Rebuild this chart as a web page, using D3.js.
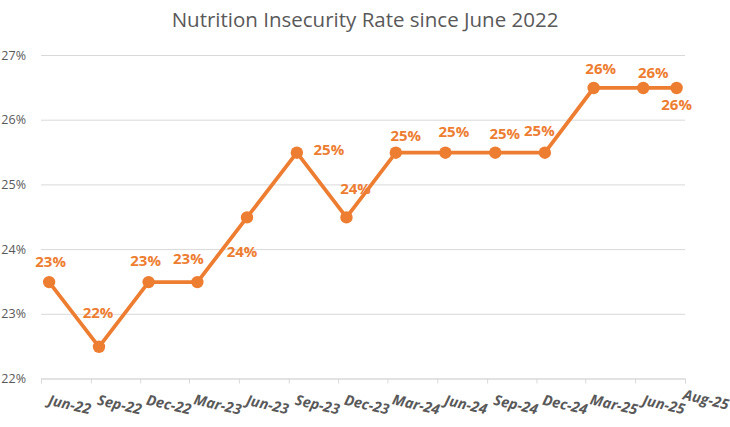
<!DOCTYPE html>
<html>
<head>
<meta charset="utf-8">
<script src="https://cdn.jsdelivr.net/npm/d3@7"></script>
<style>
  body { margin: 0; background: #fff; }
  text { font-family: "Open Sans", "Noto Sans", sans-serif; }
</style>
</head>
<body>
<div id="chart"></div>
<script>
// data (percent)
const months = ["2022-06", "2022-09", "2022-12", "2023-03", "2023-06", "2023-09", "2023-12",
                "2024-03", "2024-06", "2024-09", "2024-12", "2025-03", "2025-06", "2025-08"];
const rates = [23.49, 22.49, 23.49, 23.49, 24.49, 25.49, 24.49,
               25.49, 25.49, 25.49, 25.49, 26.49, 26.49, 26.49];
const xTickLabels = ["Jun-22", "Sep-22", "Dec-22", "Mar-23", "Jun-23", "Sep-23", "Dec-23",
                     "Mar-24", "Jun-24", "Sep-24", "Dec-24", "Mar-25", "Jun-25", "Aug-25"];
const yTicks = [22, 23, 24, 25, 26, 27];

// where each data label sits relative to its marker [dx, dy]
const labelOffsets = [[1.5, -15], [-1, -29], [-3, -16], [-9, -18], [-5, 40], [32, 2.5], [9, -23],
                      [10, -12], [8.5, -15.6], [9.5, -14], [-5.5, -16.6], [7, -14], [10, -10], [0, 22]];

let boxWidth = 730;
let boxHeight = 427;
let margin = {top: 55, right: 45, bottom: 48.5, left: 41};
let width = boxWidth - margin.left - margin.right;
let height = boxHeight - margin.top - margin.bottom;

const orange = "#ED7D31";
const grey = "#595959";
const gridColor = "#d9d9d9";

let parseMonth = d3.timeParse("%Y-%m");
let data = months.map((m, i) => {
  let start = parseMonth(m);
  let end = d3.timeMonth.offset(start, 1);
  return {date: new Date((+start + +end) / 2), value: rates[i], label: xTickLabels[i]};
});

let svg = d3.select("#chart")
  .append("svg")
  .attr("width", boxWidth)
  .attr("height", boxHeight);

// title
svg.append("text")
  .attr("x", boxWidth / 2)
  .attr("y", 27)
  .attr("text-anchor", "middle")
  .attr("font-size", "20.5px")
  .attr("fill", grey)
  .text("Nutrition Insecurity Rate since June 2022");

let plotGroup = svg.append("g")
  .attr("transform", `translate(${margin.left}, ${margin.top})`);

// scales
let axisStart = parseMonth(months[0]);
let axisEnd = d3.timeMonth.offset(parseMonth(months[months.length - 1]), 1);
let xScale = d3.scaleTime()
  .domain([axisStart, axisEnd])
  .range([0, width]);

let yScale = d3.scaleLinear()
  .domain([22, 27])
  .range([height, 0]);

// gridlines + y labels
let yAxis = d3.axisLeft(yScale)
  .tickValues(yTicks)
  .tickSize(-width)
  .tickPadding(15)
  .tickFormat(d => d + "%");

let yAxisG = plotGroup.append("g").call(yAxis);
yAxisG.select(".domain").remove();
yAxisG.selectAll(".tick line").attr("stroke", gridColor).attr("stroke-width", 1);
yAxisG.selectAll(".tick text")
  .attr("fill", grey)
  .attr("font-size", "12.5px")
  .attr("font-family", "Open Sans, sans-serif");

// x axis: tick every 3 months, last one closes the axis
let xTickDates = d3.timeMonth.range(axisStart, d3.timeMonth.offset(axisEnd, 1), 3);
let xAxis = d3.axisBottom(xScale)
  .tickValues(xTickDates)
  .tickSize(5)
  .tickFormat((d, i) => xTickLabels[i]);

let xAxisG = plotGroup.append("g")
  .attr("transform", `translate(0, ${height})`)
  .call(xAxis);
xAxisG.select(".domain").attr("stroke", gridColor);
xAxisG.selectAll(".tick line").attr("stroke", gridColor);
xAxisG.selectAll(".tick text")
  .attr("fill", grey)
  .attr("font-size", "14.5px")
  .attr("font-weight", "bold")
  .attr("font-style", "italic")
  .attr("font-family", "Open Sans, sans-serif")
  .attr("text-anchor", "middle")
  .attr("y", 0)
  .attr("dy", 0)
  .attr("transform", "translate(27, 31) rotate(13)");

// keep the last tick label inside the picture
xAxisG.selectAll(".tick").each(function(d, i, nodes) {
  if (i !== nodes.length - 1) return;
  let t = d3.select(this).select("text");
  let half = t.node().getComputedTextLength() / 2 * Math.cos(13 * Math.PI / 180);
  let right = margin.left + xScale(d) + 27 + half;
  let over = right - (boxWidth - 3);
  if (over > 0) t.attr("transform", `translate(${27 - over}, ${31 - 5}) rotate(13)`);
});

// line
let line = d3.line()
  .x(d => xScale(d.date))
  .y(d => yScale(d.value));

plotGroup.append("path")
  .datum(data)
  .attr("d", line)
  .attr("fill", "none")
  .attr("stroke", orange)
  .attr("stroke-width", 3.75)
  .attr("stroke-linejoin", "round");

plotGroup.selectAll("circle")
  .data(data)
  .enter()
  .append("circle")
  .attr("cx", d => xScale(d.date))
  .attr("cy", d => yScale(d.value))
  .attr("r", 6.2)
  .attr("fill", orange);

// data labels
let fmt = d3.format(".0%");
plotGroup.selectAll(".dataLabel")
  .data(data)
  .enter()
  .append("text")
  .attr("class", "dataLabel")
  .attr("x", (d, i) => xScale(d.date) + labelOffsets[i][0])
  .attr("y", (d, i) => yScale(d.value) + labelOffsets[i][1])
  .attr("text-anchor", "middle")
  .attr("font-size", "15px")
  .attr("font-weight", "bold")
  .attr("fill", orange)
  .text(d => fmt(d.value / 100));
</script>
</body>
</html>
